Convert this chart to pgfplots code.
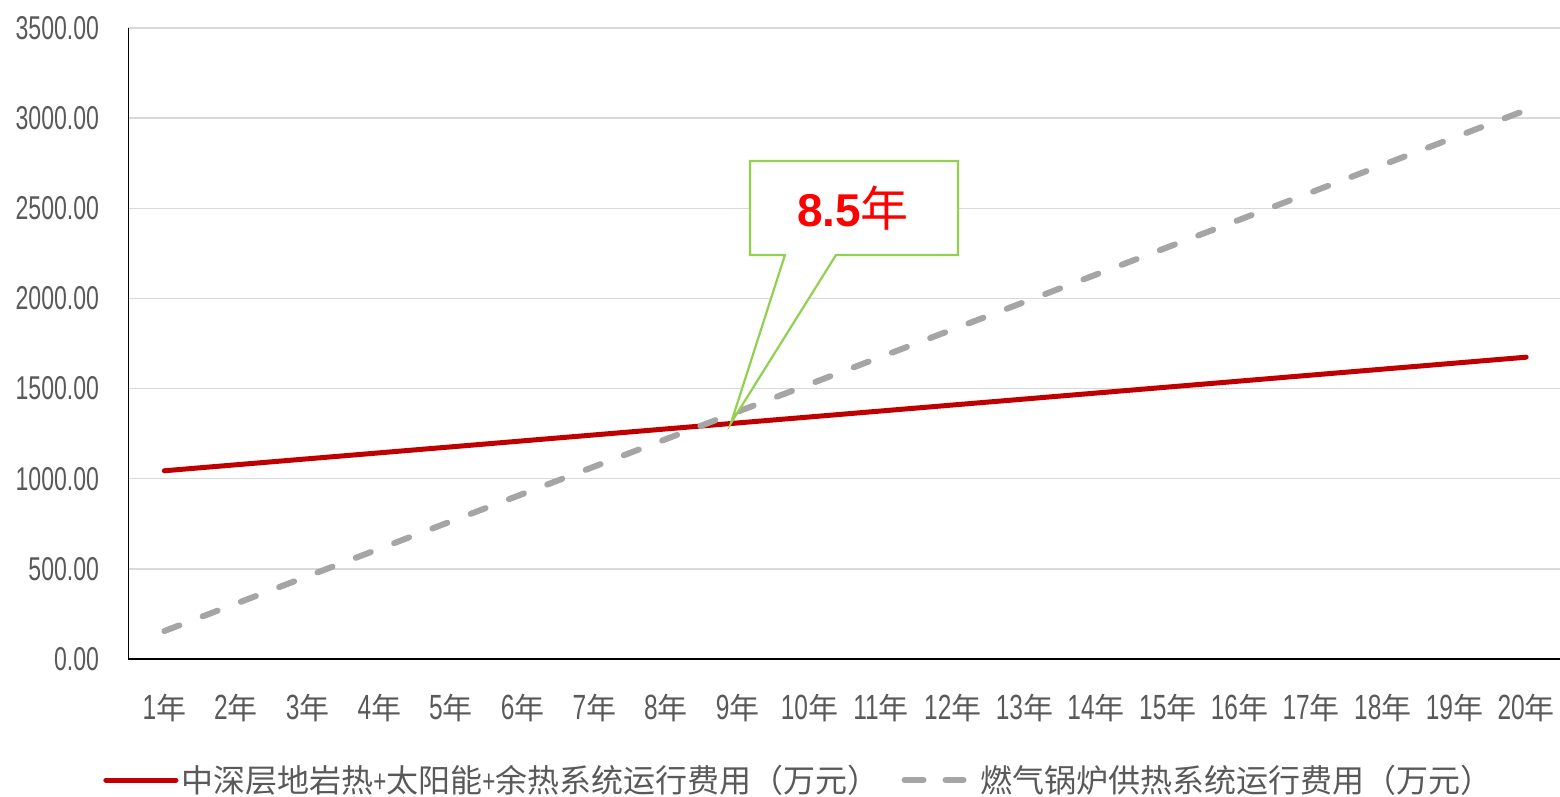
\documentclass[border=0pt]{standalone}
\usepackage{fontspec}
\usepackage{pgfplots}
\pgfplotsset{compat=1.18}
\setmainfont{Liberation Sans}
\newfontfamily\cjk{Noto Sans CJK SC}
\newfontfamily\cond[FakeStretch=0.7]{Liberation Sans}
\definecolor{costred}{HTML}{C00000}
\definecolor{gasgray}{HTML}{A5A5A5}
\definecolor{gridgray}{HTML}{D9D9D9}
\definecolor{labelgray}{HTML}{595959}
\definecolor{calloutgreen}{HTML}{92D050}
\newcommand\yr[1]{{\cond\fontsize{17.5}{19}\selectfont #1}{\cjk\fontsize{15}{17}\selectfont 年}}

% operating cost of the combined geothermal / solar / waste-heat system (10k CNY)
\pgfplotstableread{
year cost
1  1044.0
2  1077.2
3  1110.3
4  1143.5
5  1176.6
6  1209.8
7  1243.0
8  1276.1
9  1309.3
10 1342.4
11 1375.6
12 1408.8
13 1441.9
14 1475.1
15 1508.2
16 1541.4
17 1574.6
18 1607.7
19 1640.9
20 1674.0
}\geoTable
% operating cost of the gas boiler system (10k CNY)
\pgfplotstableread{
year cost
1  155.0
2  307.1
3  459.2
4  611.3
5  763.4
6  915.5
7  1067.6
8  1219.7
9  1371.8
10 1523.9
11 1676.0
12 1828.1
13 1980.2
14 2132.3
15 2284.4
16 2436.5
17 2588.6
18 2740.7
19 2892.8
20 3045.0
}\gasTable

\begin{document}
\begin{tikzpicture}
\useasboundingbox (-64.25pt,-69pt) rectangle (715.75pt,329.5pt);
\begin{axis}[
  at={(0,0)}, anchor=south west,
  scale only axis,
  width=716.75pt, height=315.5pt,
  xmin=0.5, xmax=20.5,
  ymin=0, ymax=3500,
  xtick={1,...,20},
  xticklabels={\yr{1},\yr{2},\yr{3},\yr{4},\yr{5},\yr{6},\yr{7},\yr{8},\yr{9},\yr{10},
    \yr{11},\yr{12},\yr{13},\yr{14},\yr{15},\yr{16},\yr{17},\yr{18},\yr{19},\yr{20}},
  ytick={0,500,...,3500},
  /pgf/number format/assume math mode=true,
  yticklabel={\cond\fontsize{16.5}{18}\selectfont\pgfmathprintnumber[fixed,fixed zerofill,precision=2,1000 sep={}]{\tick}},
  major tick length=0pt,
  ymajorgrids,
  grid style={gridgray, line width=0.75pt},
  axis x line*=bottom, axis y line*=left,
  axis line style={-, black, line width=0.75pt},
  xticklabel style={anchor=center, inner sep=0pt, yshift=-24.5pt, text=labelgray},
  yticklabel style={anchor=east, inner sep=0pt, xshift=-14.5pt, text=labelgray},
  legend columns=2,
  legend cell align=left,
  legend style={
    at={(-0.0178,-0.1918)}, anchor=west,
    draw=none, fill=none, inner sep=0pt,
    font=\cjk\fontsize{16}{18}\selectfont, text=labelgray,
    nodes={inner sep=0pt},
    /tikz/every odd column/.append style={column sep=1.5pt},
    /tikz/every even column/.append style={column sep=11pt},
  },
]
\addplot[costred, line width=2.5pt, line cap=round,
  legend image code/.code={
    \path (0pt,0pt) -- (35pt,0pt);
    \draw[costred, line width=2.3pt, line cap=round] (1.2pt,0pt) -- (33.8pt,0pt);}]
  table[x=year, y=cost] {\geoTable};
\addlegendentry{中深层地岩热{\cond +}太阳能{\cond +}余热系统运行费用（万元）}

\addplot[gasgray, line width=3pt, line cap=round, dash pattern=on 8pt off 12.5pt,
  legend image code/.code={
    \path (0pt,0pt) -- (35pt,0pt);
    \draw[gasgray, line width=3pt, line cap=round] (1.5pt,0pt) -- (9.5pt,0pt) (21.5pt,0pt) -- (30.5pt,0pt);}]
  table[x=year, y=cost] {\gasTable};
\addlegendentry{燃气锅炉供热系统运行费用（万元）}

% break-even callout
\draw[calloutgreen, line width=1.1pt, fill=white, line join=miter]
  (axis cs:9.171,2762) -- (axis cs:12.073,2762) -- (axis cs:12.073,2241)
  -- (axis cs:10.371,2241) -- (axis cs:8.906,1309) -- (axis cs:9.659,2241)
  -- (axis cs:9.171,2241) -- cycle;
\node[text=red, inner sep=0pt] at (axis cs:10.608,2502)
  {{\bfseries\fontsize{23}{26}\selectfont 8.5}{\cjk\fontsize{24}{26}\selectfont 年}};
\end{axis}
\end{tikzpicture}
\end{document}
